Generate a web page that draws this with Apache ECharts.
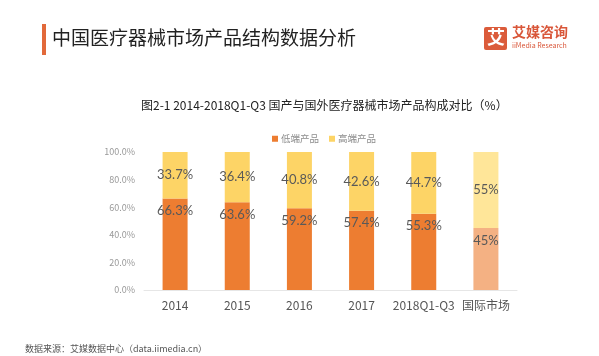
<!DOCTYPE html>
<html><head><meta charset="utf-8">
<script src="https://cdn.jsdelivr.net/npm/echarts@6/dist/echarts.min.js"></script>
<style>html,body{margin:0;padding:0;background:#fff}#c{width:599px;height:356px}</style>
</head><body><div id="c"></div>
<script>
const categories = ['2014','2015','2016','2017','2018Q1-Q3','国际市场'];
const lowEnd = [66.3,63.6,59.2,57.4,55.3,45];
const highEnd = [33.7,36.4,40.8,42.6,44.7,55];
const yTicks = [0,20,40,60,80,100];
const seriesNames = ['低端产品','高端产品'];

const F = '"Noto Sans CJK SC","Noto Sans",sans-serif';
const lowColor = '#ED7D31', highColor = '#FDD466';
const lowIntl = '#F4B183', highIntl = '#FFE699';
const last = categories.length - 1;

const chart = echarts.init(document.getElementById('c'));
chart.setOption({
  animation:false,
  textStyle:{fontFamily:F},
  grid:{left:144,right:82,top:152,bottom:66},
  legend:{top:129,left:267,itemWidth:6,itemHeight:6,itemGap:10,icon:'rect',
    textStyle:{fontSize:9.5,color:'#8c8c8c',fontFamily:F,padding:[0,0,0,-2]},data:seriesNames},
  graphic:[
    {type:'rect',shape:{x:42,y:24,width:4,height:31},style:{fill:'#E2693A'}},
    {type:'text',left:52,top:28,style:{text:'中国医疗器械市场产品结构数据分析',fontSize:19,fill:'#222',fontFamily:F}},
    {type:'rect',shape:{x:484,y:27,width:23,height:23,r:2},style:{fill:'#DB5B3A'}},
    {type:'text',left:487,top:28,style:{text:'艾',fontSize:18,fontWeight:'bold',fill:'#fff',fontFamily:F}},
    {type:'text',left:512,top:25,style:{text:'艾媒咨询',fontSize:14,fontWeight:'bold',fill:'#D9573A',fontFamily:F}},
    {type:'text',left:512,top:42,style:{text:'iiMedia Research',fontSize:7,fill:'#D9573A',fontFamily:F}},
    {type:'text',left:141,top:99,style:{text:'图2-1 2014-2018Q1-Q3 国产与国外医疗器械市场产品构成对比（%）',fontSize:12,fill:'#222',fontFamily:F}},
    {type:'text',left:25,top:344,style:{text:'数据来源：艾媒数据中心（data.iimedia.cn）',fontSize:9,fill:'#555',fontFamily:F}}
  ],
  xAxis:{type:'category',data:categories,
    axisLine:{lineStyle:{color:'#e6e6e6'}},axisTick:{show:false},
    axisLabel:{interval:0,fontSize:12,color:'#555',margin:9,fontFamily:F}},
  yAxis:{type:'value',min:0,max:100,interval:20,
    axisLine:{show:false},axisTick:{show:false},splitLine:{show:false},
    axisLabel:{fontSize:9,color:'#999',margin:9,formatter:v=>v.toFixed(1)+'%'}},
  series:[
    {name:seriesNames[0],type:'bar',stack:'s',barWidth:25,itemStyle:{color:lowColor},
     data:lowEnd.map((v,i)=>i===last?{value:v,itemStyle:{color:lowIntl}}:v),
     label:{show:true,position:'insideTop',distance:6,fontSize:13,color:'#595959',fontFamily:'Lato',formatter:p=>p.value+'%'}},
    {name:seriesNames[1],type:'bar',stack:'s',barWidth:25,itemStyle:{color:highColor},
     data:highEnd.map((v,i)=>i===last?{value:v,itemStyle:{color:highIntl}}:v),
     label:{show:true,position:'inside',fontSize:13,color:'#595959',fontFamily:'Lato',formatter:p=>p.value+'%'}}
  ]
});
</script></body></html>
